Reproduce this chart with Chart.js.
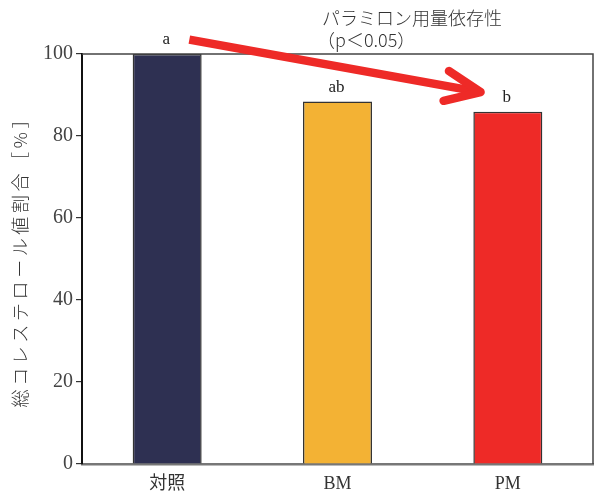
<!DOCTYPE html>
<html><head><meta charset="utf-8">
<script src="https://cdn.jsdelivr.net/npm/chart.js@4"></script>
<style>html,body{margin:0;padding:0;background:#fff}#wrap{width:595px;height:494px}</style>
</head><body><div id="wrap"><canvas id="c" width="595" height="494"></canvas></div>
<script>
const categories = ['対照', 'BM', 'PM'];
const values = [100, 88.4, 85.9];
const sigLabels = ['a', 'ab', 'b'];
const yTicks = [0, 20, 40, 60, 80, 100];
const barColors = ['#2e3052', '#f3b234', '#ee2a27'];
const yTitle = '総コレステロール値割合［%］';
const noteLines = ['パラミロン用量依存性', '（p＜0.05）'];
const arrowFrom = [0.13, 103.5];
const arrowTo = [1.84, 90.7];

const SERIF = "'Liberation Serif', 'Noto Sans CJK JP', serif";

const overlay = {
  id: 'overlay',
  afterDatasetsDraw(chart) {
    const {ctx, chartArea: a, scales: {x, y}} = chart;
    ctx.save();
    // frame top & right
    ctx.strokeStyle = '#444'; ctx.lineWidth = 1.5;
    ctx.beginPath();
    ctx.moveTo(a.left, a.top); ctx.lineTo(a.right, a.top); ctx.lineTo(a.right, a.bottom);
    ctx.stroke();
    // significance letters
    const meta = chart.getDatasetMeta(0);
    ctx.fillStyle = '#222';
    ctx.font = "17px " + SERIF;
    ctx.textAlign = 'center'; ctx.textBaseline = 'bottom';
    meta.data.forEach((bar, i) => {
      ctx.fillText(sigLabels[i], bar.x - 1, bar.y - 6);
    });
    // arrow
    const x0 = x.getPixelForValue(arrowFrom[0]), y0 = y.getPixelForValue(arrowFrom[1]);
    const x1 = x.getPixelForValue(arrowTo[0]), y1 = y.getPixelForValue(arrowTo[1]);
    const ang = Math.atan2(y1 - y0, x1 - x0);
    ctx.strokeStyle = '#ee2a27'; ctx.lineWidth = 8.5; ctx.lineCap = 'butt';
    ctx.beginPath(); ctx.moveTo(x0, y0); ctx.lineTo(x1 - 3 * Math.cos(ang), y1 - 3 * Math.sin(ang)); ctx.stroke();
    ctx.lineCap = 'round'; ctx.lineJoin = 'round';
    const L = 38, spread = 0.41;
    ctx.beginPath();
    ctx.moveTo(x1 - L * Math.cos(ang - spread), y1 - L * Math.sin(ang - spread));
    ctx.lineTo(x1, y1);
    ctx.lineTo(x1 - L * Math.cos(ang + spread), y1 - L * Math.sin(ang + spread));
    ctx.stroke();
    // note text
    ctx.fillStyle = '#333';
    ctx.font = "300 18px 'Noto Sans CJK JP'";
    ctx.textAlign = 'left'; ctx.textBaseline = 'middle';
    ctx.fillText(noteLines[0], 322, 18);
    ctx.fillText(noteLines[1], 317, 40);
    // y axis title with letter spacing
    ctx.font = "300 18px 'Noto Sans CJK JP'";
    ctx.letterSpacing = '3.6px';
    const w = ctx.measureText(yTitle).width;
    ctx.translate(20, (a.top + a.bottom) / 2);
    ctx.rotate(-Math.PI / 2);
    ctx.textAlign = 'left'; ctx.textBaseline = 'middle';
    ctx.fillText(yTitle, -w / 2 + 1.8, 0);
    ctx.restore();
  }
};

new Chart(document.getElementById('c'), {
  type: 'bar',
  data: {
    labels: categories,
    datasets: [{
      data: values,
      backgroundColor: barColors,
      borderColor: '#333',
      borderWidth: 1.5,
      borderSkipped: 'bottom',
      categoryPercentage: 1,
      barPercentage: 0.405
    }]
  },
  options: {
    responsive: false,
    animation: false,
    events: [],
    layout: {padding: {top: 54, right: 2, left: 0, bottom: 0}},
    plugins: {legend: {display: false}, tooltip: {enabled: false}},
    scales: {
      x: {
        grid: {display: false, drawTicks: false},
        border: {display: true, color: '#777', width: 2.5},
        ticks: {color: '#333', font: {family: SERIF, size: 18}, padding: 9},
        afterFit(s) { s.height = 30; }
      },
      y: {
        min: 0, max: 100,
        afterBuildTicks(s) { s.ticks = yTicks.map(v => ({value: v})); },
        grid: {drawOnChartArea: false, drawTicks: true, tickLength: 6, color: '#333', lineWidth: 1.2},
        border: {display: true, color: '#111', width: 2},
        ticks: {color: '#444', font: {family: SERIF, size: 20}, padding: 3},
        title: {display: false},
        afterFit(s) { s.width = 82; }
      }
    }
  },
  plugins: [overlay]
});
</script></body></html>
